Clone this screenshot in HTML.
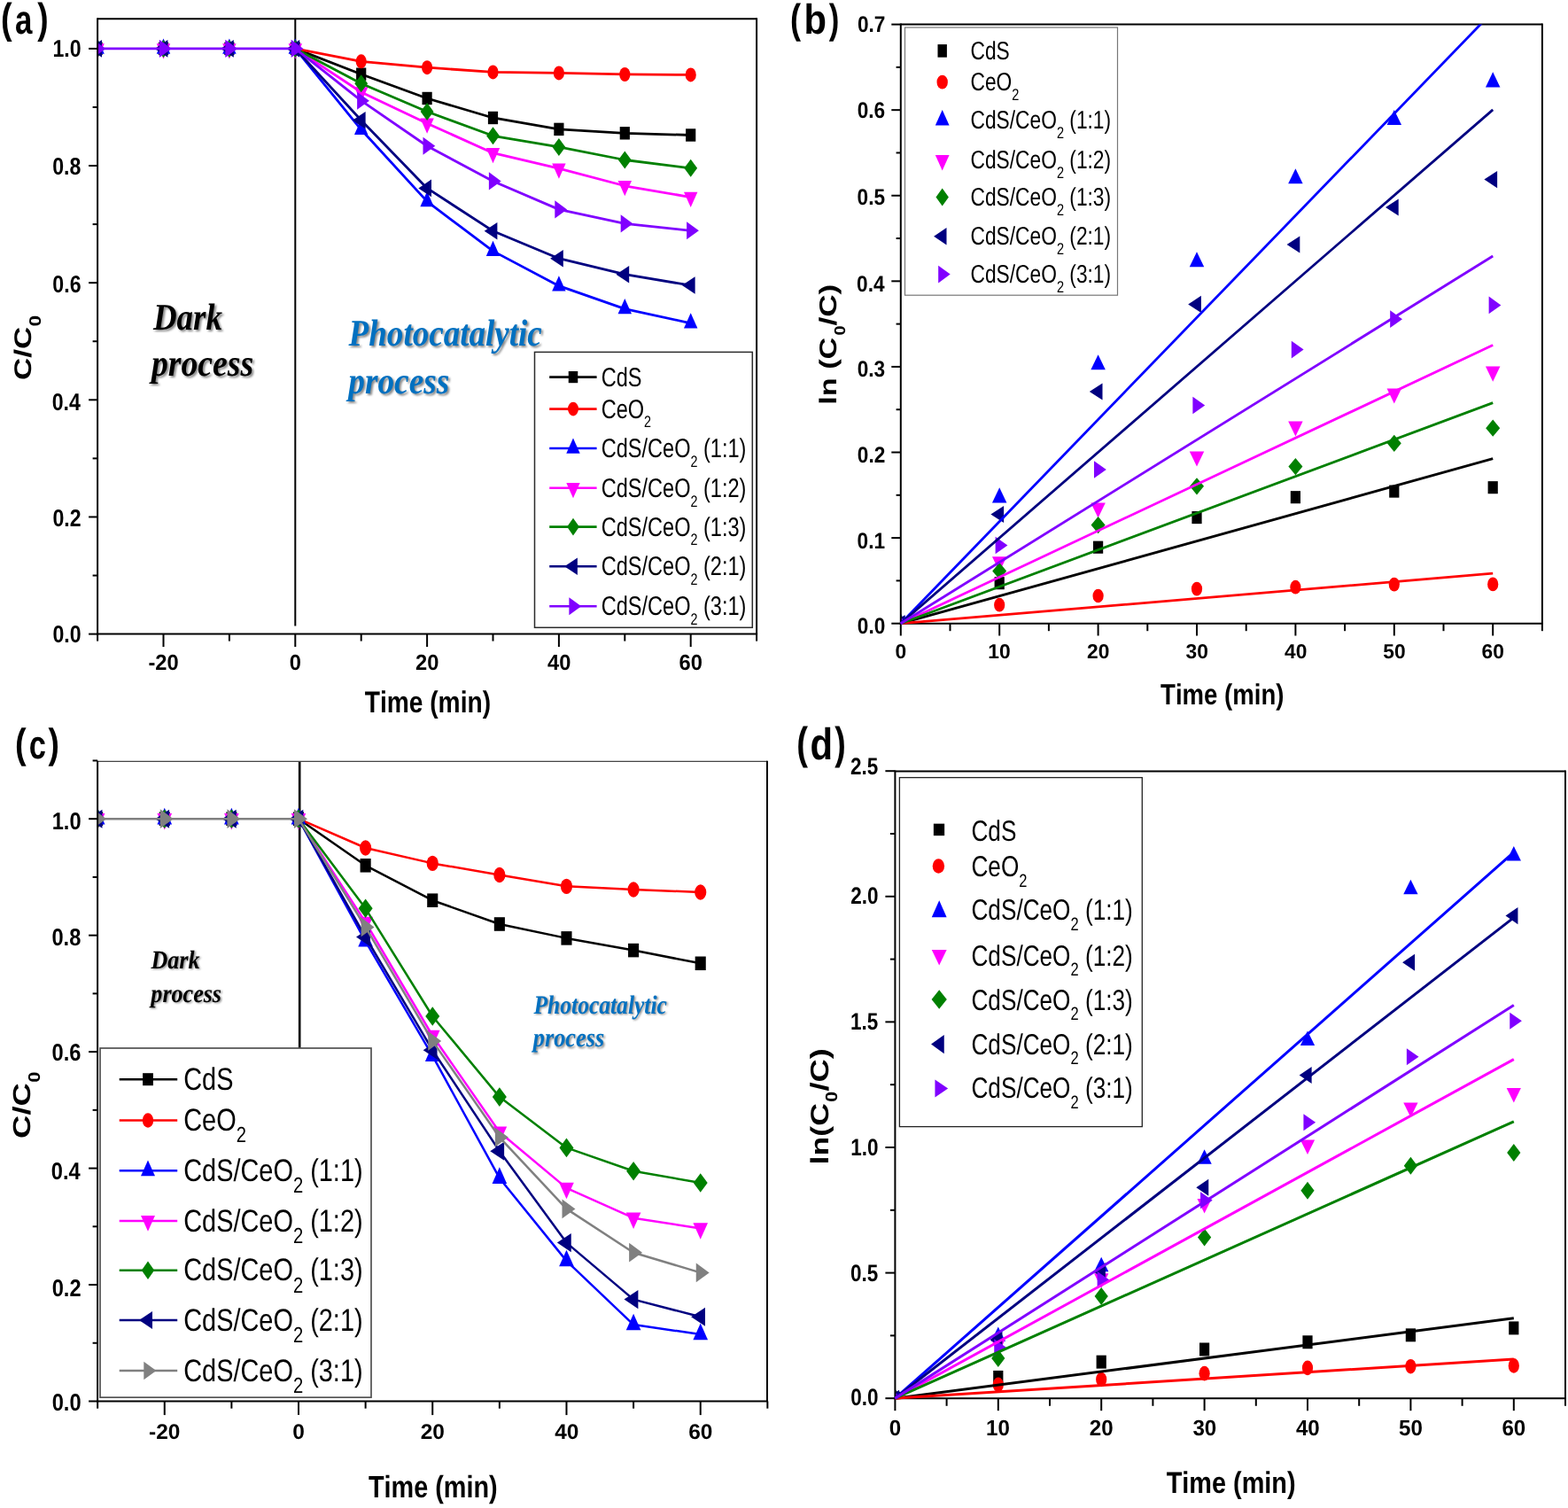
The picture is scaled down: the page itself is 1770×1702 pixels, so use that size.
<!DOCTYPE html>
<html><head><meta charset='utf-8'><title>Photocatalytic degradation figure</title>
<style>html,body{margin:0;padding:0;background:#fff;width:1770px;height:1702px;overflow:hidden}
text{font-kerning:none}</style></head>
<body>
<svg width='1770' height='1702' viewBox='0 0 1770 1702' style='display:block;font-kerning:none;text-rendering:geometricPrecision'>
<defs>
<filter id='blur' x='-10%' y='-10%' width='120%' height='120%'><feGaussianBlur stdDeviation='1'/></filter>
<clipPath id='clipA'><rect x='110.1' y='21.2' width='744' height='694.4'/></clipPath>
<clipPath id='clipB'><rect x='1016.8' y='27.6' width='724.1' height='676.1'/></clipPath>
<clipPath id='clipC'><rect x='110.1' y='859.3' width='755.9' height='722.2'/></clipPath>
<clipPath id='clipD'><rect x='1010.4' y='870.6' width='756.6' height='707.6'/></clipPath>
<clipPath id='clipB2'><rect x='1010' y='27.6' width='730' height='680'/></clipPath>
<clipPath id='clipD2'><rect x='1004' y='870.6' width='760' height='712'/></clipPath>
</defs>
<rect width='100%' height='100%' fill='#fff'/>
<line x1='333.3' y1='21.2' x2='333.3' y2='706.5' stroke='#000' stroke-width='2'/>
<g clip-path='url(#clipA)'>
<polyline points='333.3,54.9 407.7,83.71 482.1,110.99 556.5,132.99 630.9,145.88 705.3,150.31 779.7,152.49' fill='none' stroke='#000000' stroke-width='2.8' stroke-linejoin='round'/>
<rect x='104.5' y='47.7' width='11.2' height='14.4' fill='#000000'/>
<rect x='178.9' y='47.7' width='11.2' height='14.4' fill='#000000'/>
<rect x='253.3' y='47.7' width='11.2' height='14.4' fill='#000000'/>
<rect x='327.7' y='47.7' width='11.2' height='14.4' fill='#000000'/>
<rect x='402.1' y='76.51' width='11.2' height='14.4' fill='#000000'/>
<rect x='476.5' y='103.79' width='11.2' height='14.4' fill='#000000'/>
<rect x='550.9' y='125.79' width='11.2' height='14.4' fill='#000000'/>
<rect x='625.3' y='138.68' width='11.2' height='14.4' fill='#000000'/>
<rect x='699.7' y='143.11' width='11.2' height='14.4' fill='#000000'/>
<rect x='774.1' y='145.29' width='11.2' height='14.4' fill='#000000'/>
<polyline points='333.3,54.9 407.7,69.3 482.1,76.17 556.5,81.46 630.9,82.39 705.3,83.97 779.7,84.43' fill='none' stroke='#ff0000' stroke-width='2.8' stroke-linejoin='round'/>
<ellipse cx='110.1' cy='54.9' rx='6.1' ry='8' fill='#ff0000'/>
<ellipse cx='184.5' cy='54.9' rx='6.1' ry='8' fill='#ff0000'/>
<ellipse cx='258.9' cy='54.9' rx='6.1' ry='8' fill='#ff0000'/>
<ellipse cx='333.3' cy='54.9' rx='6.1' ry='8' fill='#ff0000'/>
<ellipse cx='407.7' cy='69.3' rx='6.1' ry='8' fill='#ff0000'/>
<ellipse cx='482.1' cy='76.17' rx='6.1' ry='8' fill='#ff0000'/>
<ellipse cx='556.5' cy='81.46' rx='6.1' ry='8' fill='#ff0000'/>
<ellipse cx='630.9' cy='82.39' rx='6.1' ry='8' fill='#ff0000'/>
<ellipse cx='705.3' cy='83.97' rx='6.1' ry='8' fill='#ff0000'/>
<ellipse cx='779.7' cy='84.43' rx='6.1' ry='8' fill='#ff0000'/>
<polyline points='333.3,54.9 407.7,146.27 482.1,227.41 556.5,283.37 630.9,322.68 705.3,348.58 779.7,364.77' fill='none' stroke='#0000ff' stroke-width='2.8' stroke-linejoin='round'/>
<polygon points='110.1,43.4 117.81,60.65 102.39,60.65' fill='#0000ff'/>
<polygon points='184.5,43.4 192.21,60.65 176.79,60.65' fill='#0000ff'/>
<polygon points='258.9,43.4 266.61,60.65 251.19,60.65' fill='#0000ff'/>
<polygon points='333.3,43.4 341.01,60.65 325.59,60.65' fill='#0000ff'/>
<polygon points='407.7,134.77 415.41,152.02 399.99,152.02' fill='#0000ff'/>
<polygon points='482.1,215.91 489.81,233.16 474.39,233.16' fill='#0000ff'/>
<polygon points='556.5,271.87 564.21,289.12 548.79,289.12' fill='#0000ff'/>
<polygon points='630.9,311.18 638.61,328.43 623.19,328.43' fill='#0000ff'/>
<polygon points='705.3,337.08 713.01,354.33 697.59,354.33' fill='#0000ff'/>
<polygon points='779.7,353.27 787.41,370.52 771.99,370.52' fill='#0000ff'/>
<polyline points='333.3,54.9 407.7,103.99 482.1,139.27 556.5,172.7 630.9,190.21 705.3,209.77 779.7,222.52' fill='none' stroke='#ff00ff' stroke-width='2.8' stroke-linejoin='round'/>
<polygon points='110.1,66.4 117.81,49.15 102.39,49.15' fill='#ff00ff'/>
<polygon points='184.5,66.4 192.21,49.15 176.79,49.15' fill='#ff00ff'/>
<polygon points='258.9,66.4 266.61,49.15 251.19,49.15' fill='#ff00ff'/>
<polygon points='333.3,66.4 341.01,49.15 325.59,49.15' fill='#ff00ff'/>
<polygon points='407.7,115.49 415.41,98.24 399.99,98.24' fill='#ff00ff'/>
<polygon points='482.1,150.77 489.81,133.52 474.39,133.52' fill='#ff00ff'/>
<polygon points='556.5,184.2 564.21,166.95 548.79,166.95' fill='#ff00ff'/>
<polygon points='630.9,201.71 638.61,184.46 623.19,184.46' fill='#ff00ff'/>
<polygon points='705.3,221.27 713.01,204.02 697.59,204.02' fill='#ff00ff'/>
<polygon points='779.7,234.02 787.41,216.77 771.99,216.77' fill='#ff00ff'/>
<polyline points='333.3,54.9 407.7,94.28 482.1,125.99 556.5,153.28 630.9,165.9 705.3,180.5 779.7,189.81' fill='none' stroke='#008000' stroke-width='2.8' stroke-linejoin='round'/>
<polygon points='110.1,44.9 117.5,54.9 110.1,64.9 102.7,54.9' fill='#008000'/>
<polygon points='184.5,44.9 191.9,54.9 184.5,64.9 177.1,54.9' fill='#008000'/>
<polygon points='258.9,44.9 266.3,54.9 258.9,64.9 251.5,54.9' fill='#008000'/>
<polygon points='333.3,44.9 340.7,54.9 333.3,64.9 325.9,54.9' fill='#008000'/>
<polygon points='407.7,84.28 415.1,94.28 407.7,104.28 400.3,94.28' fill='#008000'/>
<polygon points='482.1,115.99 489.5,125.99 482.1,135.99 474.7,125.99' fill='#008000'/>
<polygon points='556.5,143.28 563.9,153.28 556.5,163.28 549.1,153.28' fill='#008000'/>
<polygon points='630.9,155.9 638.3,165.9 630.9,175.9 623.5,165.9' fill='#008000'/>
<polygon points='705.3,170.5 712.7,180.5 705.3,190.5 697.9,180.5' fill='#008000'/>
<polygon points='779.7,179.81 787.1,189.81 779.7,199.81 772.3,189.81' fill='#008000'/>
<polyline points='333.3,54.9 407.7,135.7 482.1,212.41 556.5,260.71 630.9,291.69 705.3,309.73 779.7,322.09' fill='none' stroke='#000080' stroke-width='2.8' stroke-linejoin='round'/>
<polygon points='100.3,54.9 115,45.11 115,64.69' fill='#000080'/>
<polygon points='174.7,54.9 189.4,45.11 189.4,64.69' fill='#000080'/>
<polygon points='249.1,54.9 263.8,45.11 263.8,64.69' fill='#000080'/>
<polygon points='323.5,54.9 338.2,45.11 338.2,64.69' fill='#000080'/>
<polygon points='397.9,135.7 412.6,125.92 412.6,145.49' fill='#000080'/>
<polygon points='472.3,212.41 487,202.62 487,222.2' fill='#000080'/>
<polygon points='546.7,260.71 561.4,250.92 561.4,270.49' fill='#000080'/>
<polygon points='621.1,291.69 635.8,281.91 635.8,301.48' fill='#000080'/>
<polygon points='695.5,309.73 710.2,299.95 710.2,319.52' fill='#000080'/>
<polygon points='769.9,322.09 784.6,312.3 784.6,331.87' fill='#000080'/>
<polyline points='110.1,54.9 184.5,54.9 258.9,54.9 333.3,54.9 407.7,113.7 482.1,164.77 556.5,204.42 630.9,236.39 705.3,252.38 779.7,260.31' fill='none' stroke='#8000ff' stroke-width='2.8' stroke-linejoin='round'/>
<polygon points='119.3,54.9 105.5,44.85 105.5,64.95' fill='#8000ff'/>
<polygon points='193.7,54.9 179.9,44.85 179.9,64.95' fill='#8000ff'/>
<polygon points='268.1,54.9 254.3,44.85 254.3,64.95' fill='#8000ff'/>
<polygon points='342.5,54.9 328.7,44.85 328.7,64.95' fill='#8000ff'/>
<polygon points='416.9,113.7 403.1,103.66 403.1,123.75' fill='#8000ff'/>
<polygon points='491.3,164.77 477.5,154.73 477.5,174.82' fill='#8000ff'/>
<polygon points='565.7,204.42 551.9,194.37 551.9,214.46' fill='#8000ff'/>
<polygon points='640.1,236.39 626.3,226.35 626.3,246.44' fill='#8000ff'/>
<polygon points='714.5,252.38 700.7,242.34 700.7,262.43' fill='#8000ff'/>
<polygon points='788.9,260.31 775.1,250.27 775.1,270.36' fill='#8000ff'/>
</g>
<line x1='100.1' y1='715.6' x2='110.1' y2='715.6' stroke='#000' stroke-width='2'/>
<line x1='100.1' y1='583.46' x2='110.1' y2='583.46' stroke='#000' stroke-width='2'/>
<line x1='100.1' y1='451.32' x2='110.1' y2='451.32' stroke='#000' stroke-width='2'/>
<line x1='100.1' y1='319.18' x2='110.1' y2='319.18' stroke='#000' stroke-width='2'/>
<line x1='100.1' y1='187.04' x2='110.1' y2='187.04' stroke='#000' stroke-width='2'/>
<line x1='100.1' y1='54.9' x2='110.1' y2='54.9' stroke='#000' stroke-width='2'/>
<line x1='104.6' y1='649.53' x2='110.1' y2='649.53' stroke='#000' stroke-width='2'/>
<line x1='104.6' y1='517.39' x2='110.1' y2='517.39' stroke='#000' stroke-width='2'/>
<line x1='104.6' y1='385.25' x2='110.1' y2='385.25' stroke='#000' stroke-width='2'/>
<line x1='104.6' y1='253.11' x2='110.1' y2='253.11' stroke='#000' stroke-width='2'/>
<line x1='104.6' y1='120.97' x2='110.1' y2='120.97' stroke='#000' stroke-width='2'/>
<line x1='184.5' y1='715.6' x2='184.5' y2='730.1' stroke='#000' stroke-width='2'/>
<line x1='333.3' y1='715.6' x2='333.3' y2='730.1' stroke='#000' stroke-width='2'/>
<line x1='482.1' y1='715.6' x2='482.1' y2='730.1' stroke='#000' stroke-width='2'/>
<line x1='630.9' y1='715.6' x2='630.9' y2='730.1' stroke='#000' stroke-width='2'/>
<line x1='779.7' y1='715.6' x2='779.7' y2='730.1' stroke='#000' stroke-width='2'/>
<line x1='110.1' y1='715.6' x2='110.1' y2='723.6' stroke='#000' stroke-width='2'/>
<line x1='258.9' y1='715.6' x2='258.9' y2='723.6' stroke='#000' stroke-width='2'/>
<line x1='407.7' y1='715.6' x2='407.7' y2='723.6' stroke='#000' stroke-width='2'/>
<line x1='556.5' y1='715.6' x2='556.5' y2='723.6' stroke='#000' stroke-width='2'/>
<line x1='705.3' y1='715.6' x2='705.3' y2='723.6' stroke='#000' stroke-width='2'/>
<line x1='854.1' y1='715.6' x2='854.1' y2='723.6' stroke='#000' stroke-width='2'/>
<line x1='110.1' y1='21.2' x2='854.1' y2='21.2' stroke='#000' stroke-width='2'/>
<line x1='854.1' y1='20.2' x2='854.1' y2='715.6' stroke='#000' stroke-width='2'/>
<line x1='110.1' y1='20.2' x2='110.1' y2='716.6' stroke='#000' stroke-width='2'/>
<line x1='109.1' y1='715.6' x2='855.1' y2='715.6' stroke='#000' stroke-width='2'/>
<text transform='translate(59.46 725.13) scale(0.8450 1)' font-size='27.4' font-family='&quot;Liberation Sans&quot;, Arial, sans-serif' font-weight='bold' fill='#000'>0.0</text>
<text transform='translate(59.44 594.29) scale(0.8450 1)' font-size='27.4' font-family='&quot;Liberation Sans&quot;, Arial, sans-serif' font-weight='bold' fill='#000'>0.2</text>
<text transform='translate(58.64 462.55) scale(0.8450 1)' font-size='27.4' font-family='&quot;Liberation Sans&quot;, Arial, sans-serif' font-weight='bold' fill='#000'>0.4</text>
<text transform='translate(59.35 329.51) scale(0.8450 1)' font-size='27.4' font-family='&quot;Liberation Sans&quot;, Arial, sans-serif' font-weight='bold' fill='#000'>0.6</text>
<text transform='translate(59.23 197.17) scale(0.8450 1)' font-size='27.4' font-family='&quot;Liberation Sans&quot;, Arial, sans-serif' font-weight='bold' fill='#000'>0.8</text>
<text transform='translate(59.46 64.03) scale(0.8450 1)' font-size='27.4' font-family='&quot;Liberation Sans&quot;, Arial, sans-serif' font-weight='bold' fill='#000'>1.0</text>
<text transform='translate(167.39 756.45) scale(0.9600 1)' font-size='24.7' font-family='&quot;Liberation Sans&quot;, Arial, sans-serif' font-weight='bold' fill='#000'>-20</text>
<text transform='translate(326.72 756.45) scale(0.9600 1)' font-size='24.7' font-family='&quot;Liberation Sans&quot;, Arial, sans-serif' font-weight='bold' fill='#000'>0</text>
<text transform='translate(468.99 756.45) scale(0.9600 1)' font-size='24.7' font-family='&quot;Liberation Sans&quot;, Arial, sans-serif' font-weight='bold' fill='#000'>20</text>
<text transform='translate(618.02 756.45) scale(0.9600 1)' font-size='24.7' font-family='&quot;Liberation Sans&quot;, Arial, sans-serif' font-weight='bold' fill='#000'>40</text>
<text transform='translate(766.56 756.45) scale(0.9600 1)' font-size='24.7' font-family='&quot;Liberation Sans&quot;, Arial, sans-serif' font-weight='bold' fill='#000'>60</text>
<text transform='translate(411.68 803.74) scale(0.8283 1)' font-size='34.01' font-family='&quot;Liberation Sans&quot;, Arial, sans-serif' font-weight='bold' fill='#000'>Time (min)</text>
<text transform='translate(35.36 428.94) rotate(-90) scale(1.2970 1)' font-size='26.99' font-family='&quot;Liberation Sans&quot;, Arial, sans-serif' font-weight='bold' fill='#000'>C/C</text>
<text transform='translate(46.02 368.6) rotate(-90) scale(1.2180 1)' font-size='18.64' font-family='&quot;Liberation Sans&quot;, Arial, sans-serif' font-weight='bold' fill='#000'>0</text>
<text transform='translate(1.01 36.99) scale(0.7941 1)' font-size='47.74' font-family='&quot;Liberation Sans&quot;, Arial, sans-serif' font-weight='bold' fill='#000'>(</text>
<text transform='translate(16.98 38.05) scale(0.7614 1)' font-size='45.82' font-family='&quot;Liberation Sans&quot;, Arial, sans-serif' font-weight='bold' fill='#000'>a</text>
<text transform='translate(42.16 36.99) scale(0.7793 1)' font-size='47.74' font-family='&quot;Liberation Sans&quot;, Arial, sans-serif' font-weight='bold' fill='#000'>)</text>
<text transform='translate(174.97 373.5) scale(0.8700 1)' font-size='42.4' font-family='&quot;Liberation Serif&quot;, &quot;Times New Roman&quot;, serif' font-weight='bold' font-style='italic' fill='#8a8a8a' filter='url(#blur)'>Dark</text>
<text transform='translate(172.97 371.5) scale(0.8700 1)' font-size='42.4' font-family='&quot;Liberation Serif&quot;, &quot;Times New Roman&quot;, serif' font-weight='bold' font-style='italic' fill='#000'>Dark</text>
<text transform='translate(172.89 426) scale(0.8900 1)' font-size='42.4' font-family='&quot;Liberation Serif&quot;, &quot;Times New Roman&quot;, serif' font-weight='bold' font-style='italic' fill='#8a8a8a' filter='url(#blur)'>process</text>
<text transform='translate(170.89 424) scale(0.8900 1)' font-size='42.4' font-family='&quot;Liberation Serif&quot;, &quot;Times New Roman&quot;, serif' font-weight='bold' font-style='italic' fill='#000'>process</text>
<text transform='translate(395.62 392.2) scale(0.8740 1)' font-size='42.4' font-family='&quot;Liberation Serif&quot;, &quot;Times New Roman&quot;, serif' font-weight='bold' font-style='italic' fill='#8a8a8a' filter='url(#blur)'>Photocatalytic</text>
<text transform='translate(393.62 390.2) scale(0.8740 1)' font-size='42.4' font-family='&quot;Liberation Serif&quot;, &quot;Times New Roman&quot;, serif' font-weight='bold' font-style='italic' fill='#0070c0'>Photocatalytic</text>
<text transform='translate(395.26 445.7) scale(0.8800 1)' font-size='42.4' font-family='&quot;Liberation Serif&quot;, &quot;Times New Roman&quot;, serif' font-weight='bold' font-style='italic' fill='#8a8a8a' filter='url(#blur)'>process</text>
<text transform='translate(393.26 443.7) scale(0.8800 1)' font-size='42.4' font-family='&quot;Liberation Serif&quot;, &quot;Times New Roman&quot;, serif' font-weight='bold' font-style='italic' fill='#0070c0'>process</text>
<rect x='603.5' y='397.4' width='245.8' height='310.9' fill='#fff' stroke='#2a2a2a' stroke-width='1.5'/>
<line x1='620.2' y1='425.6' x2='673.6' y2='425.6' stroke='#000000' stroke-width='2.6'/>
<rect x='641.75' y='419' width='10.5' height='13.2' fill='#000000'/>
<text transform='translate(678.7 435.5) scale(0.7850 1)' font-size='30' font-family='&quot;Liberation Sans&quot;, Arial, sans-serif' fill='#000' style='white-space:pre'><tspan>CdS</tspan></text>
<line x1='620.2' y1='461.6' x2='673.6' y2='461.6' stroke='#ff0000' stroke-width='2.6'/>
<ellipse cx='647' cy='461.6' rx='6' ry='7.8' fill='#ff0000'/>
<text transform='translate(678.7 471.5) scale(0.7850 1)' font-size='30' font-family='&quot;Liberation Sans&quot;, Arial, sans-serif' fill='#000' style='white-space:pre'><tspan>CeO</tspan><tspan font-size='18.3' dy='10.8'>2</tspan></text>
<line x1='620.2' y1='506' x2='673.6' y2='506' stroke='#0000ff' stroke-width='2.6'/>
<polygon points='647,494.5 654.71,511.75 639.29,511.75' fill='#0000ff'/>
<text transform='translate(678.7 515.9) scale(0.7850 1)' font-size='30' font-family='&quot;Liberation Sans&quot;, Arial, sans-serif' fill='#000' style='white-space:pre'><tspan>CdS/CeO</tspan><tspan font-size='18.3' dy='10.8'>2</tspan><tspan font-size='30' dy='-10.8'> (1:1)</tspan></text>
<line x1='620.2' y1='550.8' x2='673.6' y2='550.8' stroke='#ff00ff' stroke-width='2.6'/>
<polygon points='647,562.3 654.71,545.05 639.29,545.05' fill='#ff00ff'/>
<text transform='translate(678.7 560.7) scale(0.7850 1)' font-size='30' font-family='&quot;Liberation Sans&quot;, Arial, sans-serif' fill='#000' style='white-space:pre'><tspan>CdS/CeO</tspan><tspan font-size='18.3' dy='10.8'>2</tspan><tspan font-size='30' dy='-10.8'> (1:2)</tspan></text>
<line x1='620.2' y1='594.6' x2='673.6' y2='594.6' stroke='#008000' stroke-width='2.6'/>
<polygon points='647,584.65 653.9,594.6 647,604.55 640.1,594.6' fill='#008000'/>
<text transform='translate(678.7 604.5) scale(0.7850 1)' font-size='30' font-family='&quot;Liberation Sans&quot;, Arial, sans-serif' fill='#000' style='white-space:pre'><tspan>CdS/CeO</tspan><tspan font-size='18.3' dy='10.8'>2</tspan><tspan font-size='30' dy='-10.8'> (1:3)</tspan></text>
<line x1='620.2' y1='639.3' x2='673.6' y2='639.3' stroke='#000080' stroke-width='2.6'/>
<polygon points='637.2,639.3 651.9,629.51 651.9,649.09' fill='#000080'/>
<text transform='translate(678.7 649.2) scale(0.7850 1)' font-size='30' font-family='&quot;Liberation Sans&quot;, Arial, sans-serif' fill='#000' style='white-space:pre'><tspan>CdS/CeO</tspan><tspan font-size='18.3' dy='10.8'>2</tspan><tspan font-size='30' dy='-10.8'> (2:1)</tspan></text>
<line x1='620.2' y1='684.2' x2='673.6' y2='684.2' stroke='#8000ff' stroke-width='2.6'/>
<polygon points='656.2,684.2 642.4,674.15 642.4,694.25' fill='#8000ff'/>
<text transform='translate(678.7 694.1) scale(0.7850 1)' font-size='30' font-family='&quot;Liberation Sans&quot;, Arial, sans-serif' fill='#000' style='white-space:pre'><tspan>CdS/CeO</tspan><tspan font-size='18.3' dy='10.8'>2</tspan><tspan font-size='30' dy='-10.8'> (3:1)</tspan></text>
<g clip-path='url(#clipB)'>
<rect x='1011.2' y='696.64' width='11.2' height='14.11' fill='#000000'/>
<rect x='1122.6' y='651.14' width='11.2' height='14.11' fill='#000000'/>
<rect x='1234' y='610.64' width='11.2' height='14.11' fill='#000000'/>
<rect x='1345.4' y='577.04' width='11.2' height='14.11' fill='#000000'/>
<rect x='1456.8' y='554.14' width='11.2' height='14.11' fill='#000000'/>
<rect x='1568.2' y='547.54' width='11.2' height='14.11' fill='#000000'/>
<rect x='1679.6' y='543.14' width='11.2' height='14.11' fill='#000000'/>
<ellipse cx='1016.8' cy='703.7' rx='6.1' ry='7.84' fill='#ff0000'/>
<ellipse cx='1128.2' cy='682.7' rx='6.1' ry='7.84' fill='#ff0000'/>
<ellipse cx='1239.6' cy='672.5' rx='6.1' ry='7.84' fill='#ff0000'/>
<ellipse cx='1351' cy='664.6' rx='6.1' ry='7.84' fill='#ff0000'/>
<ellipse cx='1462.4' cy='662.7' rx='6.1' ry='7.84' fill='#ff0000'/>
<ellipse cx='1573.8' cy='659.6' rx='6.1' ry='7.84' fill='#ff0000'/>
<ellipse cx='1685.2' cy='659.4' rx='6.1' ry='7.84' fill='#ff0000'/>
<polygon points='1016.8,692.3 1025.03,709.4 1008.57,709.4' fill='#0000ff'/>
<polygon points='1128.2,550.3 1136.43,567.4 1119.97,567.4' fill='#0000ff'/>
<polygon points='1239.6,400.2 1247.83,417.3 1231.37,417.3' fill='#0000ff'/>
<polygon points='1351,284.2 1359.23,301.3 1342.77,301.3' fill='#0000ff'/>
<polygon points='1462.4,190.2 1470.63,207.3 1454.17,207.3' fill='#0000ff'/>
<polygon points='1573.8,124 1582.03,141.1 1565.57,141.1' fill='#0000ff'/>
<polygon points='1685.2,81.3 1693.43,98.4 1676.97,98.4' fill='#0000ff'/>
<polygon points='1016.8,715.1 1025.03,698 1008.57,698' fill='#ff00ff'/>
<polygon points='1128.2,645.3 1136.43,628.2 1119.97,628.2' fill='#ff00ff'/>
<polygon points='1239.6,584.6 1247.83,567.5 1231.37,567.5' fill='#ff00ff'/>
<polygon points='1351,526.6 1359.23,509.5 1342.77,509.5' fill='#ff00ff'/>
<polygon points='1462.4,492.6 1470.63,475.5 1454.17,475.5' fill='#ff00ff'/>
<polygon points='1573.8,455.6 1582.03,438.5 1565.57,438.5' fill='#ff00ff'/>
<polygon points='1685.2,430.7 1693.43,413.6 1676.97,413.6' fill='#ff00ff'/>
<polygon points='1016.8,694.1 1024.8,703.7 1016.8,713.3 1008.8,703.7' fill='#008000'/>
<polygon points='1128.2,634.9 1136.2,644.5 1128.2,654.1 1120.2,644.5' fill='#008000'/>
<polygon points='1239.6,583 1247.6,592.6 1239.6,602.2 1231.6,592.6' fill='#008000'/>
<polygon points='1351,539.2 1359,548.8 1351,558.4 1343,548.8' fill='#008000'/>
<polygon points='1462.4,517 1470.4,526.6 1462.4,536.2 1454.4,526.6' fill='#008000'/>
<polygon points='1573.8,490.7 1581.8,500.3 1573.8,509.9 1565.8,500.3' fill='#008000'/>
<polygon points='1685.2,473.6 1693.2,483.2 1685.2,492.8 1677.2,483.2' fill='#008000'/>
<polygon points='1007,703.7 1021.7,694.11 1021.7,713.29' fill='#000080'/>
<polygon points='1118.4,580.5 1133.1,570.91 1133.1,590.09' fill='#000080'/>
<polygon points='1229.8,442 1244.5,432.41 1244.5,451.59' fill='#000080'/>
<polygon points='1341.2,343.4 1355.9,333.81 1355.9,352.99' fill='#000080'/>
<polygon points='1452.6,276 1467.3,266.41 1467.3,285.59' fill='#000080'/>
<polygon points='1564,234 1578.7,224.41 1578.7,243.59' fill='#000080'/>
<polygon points='1675.4,202.6 1690.1,193.01 1690.1,212.19' fill='#000080'/>
<polygon points='1026,703.7 1012.2,693.86 1012.2,713.54' fill='#8000ff'/>
<polygon points='1137.4,615.5 1123.6,605.66 1123.6,625.34' fill='#8000ff'/>
<polygon points='1248.8,530 1235,520.16 1235,539.84' fill='#8000ff'/>
<polygon points='1360.2,457.5 1346.4,447.66 1346.4,467.34' fill='#8000ff'/>
<polygon points='1471.6,394.6 1457.8,384.76 1457.8,404.44' fill='#8000ff'/>
<polygon points='1583,360.2 1569.2,350.36 1569.2,370.04' fill='#8000ff'/>
<polygon points='1694.4,344.4 1680.6,334.56 1680.6,354.24' fill='#8000ff'/>
</g>
<line x1='1006.3' y1='703.7' x2='1016.8' y2='703.7' stroke='#000' stroke-width='2'/>
<line x1='1006.3' y1='607.11' x2='1016.8' y2='607.11' stroke='#000' stroke-width='2'/>
<line x1='1006.3' y1='510.52' x2='1016.8' y2='510.52' stroke='#000' stroke-width='2'/>
<line x1='1006.3' y1='413.93' x2='1016.8' y2='413.93' stroke='#000' stroke-width='2'/>
<line x1='1006.3' y1='317.34' x2='1016.8' y2='317.34' stroke='#000' stroke-width='2'/>
<line x1='1006.3' y1='220.75' x2='1016.8' y2='220.75' stroke='#000' stroke-width='2'/>
<line x1='1006.3' y1='124.16' x2='1016.8' y2='124.16' stroke='#000' stroke-width='2'/>
<line x1='1006.3' y1='27.57' x2='1016.8' y2='27.57' stroke='#000' stroke-width='2'/>
<line x1='1011.6' y1='655.41' x2='1016.8' y2='655.41' stroke='#000' stroke-width='2'/>
<line x1='1011.6' y1='558.82' x2='1016.8' y2='558.82' stroke='#000' stroke-width='2'/>
<line x1='1011.6' y1='462.23' x2='1016.8' y2='462.23' stroke='#000' stroke-width='2'/>
<line x1='1011.6' y1='365.64' x2='1016.8' y2='365.64' stroke='#000' stroke-width='2'/>
<line x1='1011.6' y1='269.05' x2='1016.8' y2='269.05' stroke='#000' stroke-width='2'/>
<line x1='1011.6' y1='172.46' x2='1016.8' y2='172.46' stroke='#000' stroke-width='2'/>
<line x1='1011.6' y1='75.87' x2='1016.8' y2='75.87' stroke='#000' stroke-width='2'/>
<line x1='1016.8' y1='703.7' x2='1016.8' y2='717.5' stroke='#000' stroke-width='2'/>
<line x1='1128.2' y1='703.7' x2='1128.2' y2='717.5' stroke='#000' stroke-width='2'/>
<line x1='1239.6' y1='703.7' x2='1239.6' y2='717.5' stroke='#000' stroke-width='2'/>
<line x1='1351' y1='703.7' x2='1351' y2='717.5' stroke='#000' stroke-width='2'/>
<line x1='1462.4' y1='703.7' x2='1462.4' y2='717.5' stroke='#000' stroke-width='2'/>
<line x1='1573.8' y1='703.7' x2='1573.8' y2='717.5' stroke='#000' stroke-width='2'/>
<line x1='1685.2' y1='703.7' x2='1685.2' y2='717.5' stroke='#000' stroke-width='2'/>
<line x1='1072.5' y1='703.7' x2='1072.5' y2='712.2' stroke='#000' stroke-width='2'/>
<line x1='1183.9' y1='703.7' x2='1183.9' y2='712.2' stroke='#000' stroke-width='2'/>
<line x1='1295.3' y1='703.7' x2='1295.3' y2='712.2' stroke='#000' stroke-width='2'/>
<line x1='1406.7' y1='703.7' x2='1406.7' y2='712.2' stroke='#000' stroke-width='2'/>
<line x1='1518.1' y1='703.7' x2='1518.1' y2='712.2' stroke='#000' stroke-width='2'/>
<line x1='1629.5' y1='703.7' x2='1629.5' y2='712.2' stroke='#000' stroke-width='2'/>
<line x1='1740.9' y1='703.7' x2='1740.9' y2='712.2' stroke='#000' stroke-width='2'/>
<line x1='1016.8' y1='27.6' x2='1740.9' y2='27.6' stroke='#000' stroke-width='2'/>
<line x1='1740.9' y1='26.6' x2='1740.9' y2='703.7' stroke='#000' stroke-width='2'/>
<line x1='1016.8' y1='26.6' x2='1016.8' y2='704.7' stroke='#000' stroke-width='2'/>
<line x1='1015.8' y1='703.7' x2='1741.9' y2='703.7' stroke='#000' stroke-width='2'/>
<g clip-path='url(#clipB2)'>
<polyline points='1016.8,703.7 1685.2,517.7' fill='none' stroke='#000000' stroke-width='2.8' stroke-linejoin='round'/>
<polyline points='1016.8,703.7 1685.2,647.2' fill='none' stroke='#ff0000' stroke-width='2.8' stroke-linejoin='round'/>
<polyline points='1016.8,703.7 1685.2,13.1' fill='none' stroke='#0000ff' stroke-width='2.8' stroke-linejoin='round'/>
<polyline points='1016.8,703.7 1685.2,389.6' fill='none' stroke='#ff00ff' stroke-width='2.8' stroke-linejoin='round'/>
<polyline points='1016.8,703.7 1685.2,454.6' fill='none' stroke='#008000' stroke-width='2.8' stroke-linejoin='round'/>
<polyline points='1016.8,703.7 1685.2,123.9' fill='none' stroke='#000080' stroke-width='2.8' stroke-linejoin='round'/>
<polyline points='1016.8,703.7 1685.2,289' fill='none' stroke='#8000ff' stroke-width='2.8' stroke-linejoin='round'/>
</g>
<text transform='translate(967.83 715.01) scale(0.8850 1)' font-size='25.6' font-family='&quot;Liberation Sans&quot;, Arial, sans-serif' font-weight='bold' fill='#000'>0.0</text>
<text transform='translate(967.54 618.82) scale(0.8850 1)' font-size='25.6' font-family='&quot;Liberation Sans&quot;, Arial, sans-serif' font-weight='bold' fill='#000'>0.1</text>
<text transform='translate(967.81 521.73) scale(0.8850 1)' font-size='25.6' font-family='&quot;Liberation Sans&quot;, Arial, sans-serif' font-weight='bold' fill='#000'>0.2</text>
<text transform='translate(967.72 425.12) scale(0.8850 1)' font-size='25.6' font-family='&quot;Liberation Sans&quot;, Arial, sans-serif' font-weight='bold' fill='#000'>0.3</text>
<text transform='translate(967.03 329.05) scale(0.8850 1)' font-size='25.6' font-family='&quot;Liberation Sans&quot;, Arial, sans-serif' font-weight='bold' fill='#000'>0.4</text>
<text transform='translate(967.54 231.46) scale(0.8850 1)' font-size='25.6' font-family='&quot;Liberation Sans&quot;, Arial, sans-serif' font-weight='bold' fill='#000'>0.5</text>
<text transform='translate(967.72 133.17) scale(0.8850 1)' font-size='25.6' font-family='&quot;Liberation Sans&quot;, Arial, sans-serif' font-weight='bold' fill='#000'>0.6</text>
<text transform='translate(967.9 36.18) scale(0.8850 1)' font-size='25.6' font-family='&quot;Liberation Sans&quot;, Arial, sans-serif' font-weight='bold' fill='#000'>0.7</text>
<text transform='translate(1010.48 743.16) scale(0.9900 1)' font-size='23' font-family='&quot;Liberation Sans&quot;, Arial, sans-serif' font-weight='bold' fill='#000'>0</text>
<text transform='translate(1115.29 743.16) scale(0.9900 1)' font-size='23' font-family='&quot;Liberation Sans&quot;, Arial, sans-serif' font-weight='bold' fill='#000'>10</text>
<text transform='translate(1227.01 743.16) scale(0.9900 1)' font-size='23' font-family='&quot;Liberation Sans&quot;, Arial, sans-serif' font-weight='bold' fill='#000'>20</text>
<text transform='translate(1338.54 743.16) scale(0.9900 1)' font-size='23' font-family='&quot;Liberation Sans&quot;, Arial, sans-serif' font-weight='bold' fill='#000'>30</text>
<text transform='translate(1450.03 743.16) scale(0.9900 1)' font-size='23' font-family='&quot;Liberation Sans&quot;, Arial, sans-serif' font-weight='bold' fill='#000'>40</text>
<text transform='translate(1561.25 743.16) scale(0.9900 1)' font-size='23' font-family='&quot;Liberation Sans&quot;, Arial, sans-serif' font-weight='bold' fill='#000'>50</text>
<text transform='translate(1672.59 743.16) scale(0.9900 1)' font-size='23' font-family='&quot;Liberation Sans&quot;, Arial, sans-serif' font-weight='bold' fill='#000'>60</text>
<text transform='translate(1310.09 794.87) scale(0.8371 1)' font-size='32.94' font-family='&quot;Liberation Sans&quot;, Arial, sans-serif' font-weight='bold' fill='#000'>Time (min)</text>
<text transform='translate(944.37 456.8) rotate(-90) scale(1.2642 1)' font-size='27.14' font-family='&quot;Liberation Sans&quot;, Arial, sans-serif' font-weight='bold' fill='#000'>ln (C</text>
<text transform='translate(954.03 378.48) rotate(-90) scale(1.1285 1)' font-size='17.51' font-family='&quot;Liberation Sans&quot;, Arial, sans-serif' font-weight='bold' fill='#000'>0</text>
<text transform='translate(944.35 367.54) rotate(-90) scale(1.2882 1)' font-size='27.25' font-family='&quot;Liberation Sans&quot;, Arial, sans-serif' font-weight='bold' fill='#000'>/C)</text>
<text transform='translate(892 37.18) scale(0.7798 1)' font-size='46.35' font-family='&quot;Liberation Sans&quot;, Arial, sans-serif' font-weight='bold' fill='#000'>(</text>
<text transform='translate(907.55 38.44) scale(0.8845 1)' font-size='47.11' font-family='&quot;Liberation Sans&quot;, Arial, sans-serif' font-weight='bold' fill='#000'>b</text>
<text transform='translate(935.77 37.18) scale(0.7492 1)' font-size='46.35' font-family='&quot;Liberation Sans&quot;, Arial, sans-serif' font-weight='bold' fill='#000'>)</text>
<rect x='1021.5' y='31' width='240' height='302.2' fill='#fff' stroke='#777' stroke-width='1.2'/>
<rect x='1058.5' y='50.1' width='10.4' height='14.6' fill='#000000'/>
<text transform='translate(1095.54 67) scale(0.7900 1)' font-size='28.8' font-family='&quot;Liberation Sans&quot;, Arial, sans-serif' fill='#000' style='white-space:pre'><tspan>CdS</tspan></text>
<ellipse cx='1063.7' cy='92.7' rx='6.2' ry='7.9' fill='#ff0000'/>
<text transform='translate(1095.54 102.3) scale(0.7900 1)' font-size='28.8' font-family='&quot;Liberation Sans&quot;, Arial, sans-serif' fill='#000' style='white-space:pre'><tspan>CeO</tspan><tspan font-size='18.43' dy='10.51'>2</tspan></text>
<polygon points='1063.7,123.9 1071.58,141.45 1055.82,141.45' fill='#0000ff'/>
<text transform='translate(1095.54 145.2) scale(0.7900 1)' font-size='28.8' font-family='&quot;Liberation Sans&quot;, Arial, sans-serif' fill='#000' style='white-space:pre'><tspan>CdS/CeO</tspan><tspan font-size='18.43' dy='10.51'>2</tspan><tspan font-size='28.8' dy='-10.51'> (1:1)</tspan></text>
<polygon points='1063.7,192.5 1071.58,174.95 1055.82,174.95' fill='#ff00ff'/>
<text transform='translate(1095.54 190.4) scale(0.7900 1)' font-size='28.8' font-family='&quot;Liberation Sans&quot;, Arial, sans-serif' fill='#000' style='white-space:pre'><tspan>CdS/CeO</tspan><tspan font-size='18.43' dy='10.51'>2</tspan><tspan font-size='28.8' dy='-10.51'> (1:2)</tspan></text>
<polygon points='1063.7,212.6 1070.9,222.6 1063.7,232.6 1056.5,222.6' fill='#008000'/>
<text transform='translate(1095.54 232.2) scale(0.7900 1)' font-size='28.8' font-family='&quot;Liberation Sans&quot;, Arial, sans-serif' fill='#000' style='white-space:pre'><tspan>CdS/CeO</tspan><tspan font-size='18.43' dy='10.51'>2</tspan><tspan font-size='28.8' dy='-10.51'> (1:3)</tspan></text>
<polygon points='1054.1,266.7 1068.5,257 1068.5,276.4' fill='#000080'/>
<text transform='translate(1095.54 276.3) scale(0.7900 1)' font-size='28.8' font-family='&quot;Liberation Sans&quot;, Arial, sans-serif' fill='#000' style='white-space:pre'><tspan>CdS/CeO</tspan><tspan font-size='18.43' dy='10.51'>2</tspan><tspan font-size='28.8' dy='-10.51'> (2:1)</tspan></text>
<polygon points='1072.7,309.6 1059.2,299.73 1059.2,319.47' fill='#8000ff'/>
<text transform='translate(1095.54 319.2) scale(0.7900 1)' font-size='28.8' font-family='&quot;Liberation Sans&quot;, Arial, sans-serif' fill='#000' style='white-space:pre'><tspan>CdS/CeO</tspan><tspan font-size='18.43' dy='10.51'>2</tspan><tspan font-size='28.8' dy='-10.51'> (3:1)</tspan></text>
<line x1='338.2' y1='859.3' x2='338.2' y2='1183' stroke='#000' stroke-width='2.6'/>
<g clip-path='url(#clipC)'>
<polyline points='337,924.2 412.62,976.8 488.24,1016.2 563.86,1043 639.48,1058.9 715.1,1072.6 790.72,1087.3' fill='none' stroke='#000000' stroke-width='2.5' stroke-linejoin='round'/>
<rect x='104.09' y='916.42' width='12.1' height='15.55' fill='#000000'/>
<rect x='179.71' y='916.42' width='12.1' height='15.55' fill='#000000'/>
<rect x='255.33' y='916.42' width='12.1' height='15.55' fill='#000000'/>
<rect x='330.95' y='916.42' width='12.1' height='15.55' fill='#000000'/>
<rect x='406.57' y='969.02' width='12.1' height='15.55' fill='#000000'/>
<rect x='482.19' y='1008.42' width='12.1' height='15.55' fill='#000000'/>
<rect x='557.81' y='1035.22' width='12.1' height='15.55' fill='#000000'/>
<rect x='633.43' y='1051.12' width='12.1' height='15.55' fill='#000000'/>
<rect x='709.05' y='1064.82' width='12.1' height='15.55' fill='#000000'/>
<rect x='784.67' y='1079.52' width='12.1' height='15.55' fill='#000000'/>
<polyline points='337,924.2 412.62,957 488.24,974.4 563.86,987.5 639.48,1000.3 715.1,1004 790.72,1007' fill='none' stroke='#ff0000' stroke-width='2.5' stroke-linejoin='round'/>
<ellipse cx='110.14' cy='924.2' rx='6.59' ry='8.64' fill='#ff0000'/>
<ellipse cx='185.76' cy='924.2' rx='6.59' ry='8.64' fill='#ff0000'/>
<ellipse cx='261.38' cy='924.2' rx='6.59' ry='8.64' fill='#ff0000'/>
<ellipse cx='337' cy='924.2' rx='6.59' ry='8.64' fill='#ff0000'/>
<ellipse cx='412.62' cy='957' rx='6.59' ry='8.64' fill='#ff0000'/>
<ellipse cx='488.24' cy='974.4' rx='6.59' ry='8.64' fill='#ff0000'/>
<ellipse cx='563.86' cy='987.5' rx='6.59' ry='8.64' fill='#ff0000'/>
<ellipse cx='639.48' cy='1000.3' rx='6.59' ry='8.64' fill='#ff0000'/>
<ellipse cx='715.1' cy='1004' rx='6.59' ry='8.64' fill='#ff0000'/>
<ellipse cx='790.72' cy='1007' rx='6.59' ry='8.64' fill='#ff0000'/>
<polyline points='337,924.2 412.62,1062.4 488.24,1191.7 563.86,1329.7 639.48,1423.1 715.1,1495.1 790.72,1506' fill='none' stroke='#0000ff' stroke-width='2.5' stroke-linejoin='round'/>
<polygon points='110.14,911.78 118.46,930.41 101.82,930.41' fill='#0000ff'/>
<polygon points='185.76,911.78 194.08,930.41 177.44,930.41' fill='#0000ff'/>
<polygon points='261.38,911.78 269.7,930.41 253.06,930.41' fill='#0000ff'/>
<polygon points='337,911.78 345.32,930.41 328.68,930.41' fill='#0000ff'/>
<polygon points='412.62,1049.98 420.94,1068.61 404.3,1068.61' fill='#0000ff'/>
<polygon points='488.24,1179.28 496.56,1197.91 479.92,1197.91' fill='#0000ff'/>
<polygon points='563.86,1317.28 572.18,1335.91 555.54,1335.91' fill='#0000ff'/>
<polygon points='639.48,1410.68 647.8,1429.31 631.16,1429.31' fill='#0000ff'/>
<polygon points='715.1,1482.68 723.42,1501.31 706.78,1501.31' fill='#0000ff'/>
<polygon points='790.72,1493.58 799.04,1512.21 782.4,1512.21' fill='#0000ff'/>
<polyline points='337,924.2 412.62,1041 488.24,1169 563.86,1277.7 639.48,1340.9 715.1,1374.7 790.72,1386.4' fill='none' stroke='#ff00ff' stroke-width='2.5' stroke-linejoin='round'/>
<polygon points='110.14,936.62 118.46,917.99 101.82,917.99' fill='#ff00ff'/>
<polygon points='185.76,936.62 194.08,917.99 177.44,917.99' fill='#ff00ff'/>
<polygon points='261.38,936.62 269.7,917.99 253.06,917.99' fill='#ff00ff'/>
<polygon points='337,936.62 345.32,917.99 328.68,917.99' fill='#ff00ff'/>
<polygon points='412.62,1053.42 420.94,1034.79 404.3,1034.79' fill='#ff00ff'/>
<polygon points='488.24,1181.42 496.56,1162.79 479.92,1162.79' fill='#ff00ff'/>
<polygon points='563.86,1290.12 572.18,1271.49 555.54,1271.49' fill='#ff00ff'/>
<polygon points='639.48,1353.32 647.8,1334.69 631.16,1334.69' fill='#ff00ff'/>
<polygon points='715.1,1387.12 723.42,1368.49 706.78,1368.49' fill='#ff00ff'/>
<polygon points='790.72,1398.82 799.04,1380.19 782.4,1380.19' fill='#ff00ff'/>
<polyline points='337,924.2 412.62,1025.3 488.24,1147 563.86,1238.1 639.48,1295.4 715.1,1321.8 790.72,1335' fill='none' stroke='#008000' stroke-width='2.5' stroke-linejoin='round'/>
<polygon points='110.14,913.4 118.13,924.2 110.14,935 102.15,924.2' fill='#008000'/>
<polygon points='185.76,913.4 193.75,924.2 185.76,935 177.77,924.2' fill='#008000'/>
<polygon points='261.38,913.4 269.37,924.2 261.38,935 253.39,924.2' fill='#008000'/>
<polygon points='337,913.4 344.99,924.2 337,935 329.01,924.2' fill='#008000'/>
<polygon points='412.62,1014.5 420.61,1025.3 412.62,1036.1 404.63,1025.3' fill='#008000'/>
<polygon points='488.24,1136.2 496.23,1147 488.24,1157.8 480.25,1147' fill='#008000'/>
<polygon points='563.86,1227.3 571.85,1238.1 563.86,1248.9 555.87,1238.1' fill='#008000'/>
<polygon points='639.48,1284.6 647.47,1295.4 639.48,1306.2 631.49,1295.4' fill='#008000'/>
<polygon points='715.1,1311 723.09,1321.8 715.1,1332.6 707.11,1321.8' fill='#008000'/>
<polygon points='790.72,1324.2 798.71,1335 790.72,1345.8 782.73,1335' fill='#008000'/>
<polyline points='337,924.2 412.62,1057.6 488.24,1185.2 563.86,1299.2 639.48,1402.6 715.1,1466.6 790.72,1486.3' fill='none' stroke='#000080' stroke-width='2.5' stroke-linejoin='round'/>
<polygon points='99.56,924.2 115.43,913.63 115.43,934.77' fill='#000080'/>
<polygon points='175.18,924.2 191.05,913.63 191.05,934.77' fill='#000080'/>
<polygon points='250.8,924.2 266.67,913.63 266.67,934.77' fill='#000080'/>
<polygon points='326.42,924.2 342.29,913.63 342.29,934.77' fill='#000080'/>
<polygon points='402.04,1057.6 417.91,1047.03 417.91,1068.17' fill='#000080'/>
<polygon points='477.66,1185.2 493.53,1174.63 493.53,1195.77' fill='#000080'/>
<polygon points='553.28,1299.2 569.15,1288.63 569.15,1309.77' fill='#000080'/>
<polygon points='628.9,1402.6 644.77,1392.03 644.77,1413.17' fill='#000080'/>
<polygon points='704.52,1466.6 720.39,1456.03 720.39,1477.17' fill='#000080'/>
<polygon points='780.14,1486.3 796.01,1475.73 796.01,1496.87' fill='#000080'/>
<polyline points='110.14,924.2 185.76,924.2 261.38,924.2 337,924.2 412.62,1046.4 488.24,1174.9 563.86,1283.6 639.48,1364.4 715.1,1413.7 790.72,1436.4' fill='none' stroke='#808080' stroke-width='2.5' stroke-linejoin='round'/>
<polygon points='120.08,924.2 105.17,913.35 105.17,935.05' fill='#808080'/>
<polygon points='195.7,924.2 180.79,913.35 180.79,935.05' fill='#808080'/>
<polygon points='271.32,924.2 256.41,913.35 256.41,935.05' fill='#808080'/>
<polygon points='346.94,924.2 332.03,913.35 332.03,935.05' fill='#808080'/>
<polygon points='422.56,1046.4 407.65,1035.55 407.65,1057.25' fill='#808080'/>
<polygon points='498.18,1174.9 483.27,1164.05 483.27,1185.75' fill='#808080'/>
<polygon points='573.8,1283.6 558.89,1272.75 558.89,1294.45' fill='#808080'/>
<polygon points='649.42,1364.4 634.51,1353.55 634.51,1375.25' fill='#808080'/>
<polygon points='725.04,1413.7 710.13,1402.85 710.13,1424.55' fill='#808080'/>
<polygon points='800.66,1436.4 785.75,1425.55 785.75,1447.25' fill='#808080'/>
</g>
<line x1='100.1' y1='1581.5' x2='110.1' y2='1581.5' stroke='#000' stroke-width='2'/>
<line x1='100.1' y1='1450.04' x2='110.1' y2='1450.04' stroke='#000' stroke-width='2'/>
<line x1='100.1' y1='1318.58' x2='110.1' y2='1318.58' stroke='#000' stroke-width='2'/>
<line x1='100.1' y1='1187.12' x2='110.1' y2='1187.12' stroke='#000' stroke-width='2'/>
<line x1='100.1' y1='1055.66' x2='110.1' y2='1055.66' stroke='#000' stroke-width='2'/>
<line x1='100.1' y1='924.2' x2='110.1' y2='924.2' stroke='#000' stroke-width='2'/>
<line x1='104.6' y1='1515.77' x2='110.1' y2='1515.77' stroke='#000' stroke-width='2'/>
<line x1='104.6' y1='1384.31' x2='110.1' y2='1384.31' stroke='#000' stroke-width='2'/>
<line x1='104.6' y1='1252.85' x2='110.1' y2='1252.85' stroke='#000' stroke-width='2'/>
<line x1='104.6' y1='1121.39' x2='110.1' y2='1121.39' stroke='#000' stroke-width='2'/>
<line x1='104.6' y1='989.93' x2='110.1' y2='989.93' stroke='#000' stroke-width='2'/>
<line x1='104.6' y1='858.47' x2='110.1' y2='858.47' stroke='#000' stroke-width='2'/>
<line x1='185.76' y1='1581.5' x2='185.76' y2='1597.1' stroke='#000' stroke-width='2'/>
<line x1='337' y1='1581.5' x2='337' y2='1597.1' stroke='#000' stroke-width='2'/>
<line x1='488.24' y1='1581.5' x2='488.24' y2='1597.1' stroke='#000' stroke-width='2'/>
<line x1='639.48' y1='1581.5' x2='639.48' y2='1597.1' stroke='#000' stroke-width='2'/>
<line x1='790.72' y1='1581.5' x2='790.72' y2='1597.1' stroke='#000' stroke-width='2'/>
<line x1='110.14' y1='1581.5' x2='110.14' y2='1589.7' stroke='#000' stroke-width='2'/>
<line x1='261.38' y1='1581.5' x2='261.38' y2='1589.7' stroke='#000' stroke-width='2'/>
<line x1='412.62' y1='1581.5' x2='412.62' y2='1589.7' stroke='#000' stroke-width='2'/>
<line x1='563.86' y1='1581.5' x2='563.86' y2='1589.7' stroke='#000' stroke-width='2'/>
<line x1='715.1' y1='1581.5' x2='715.1' y2='1589.7' stroke='#000' stroke-width='2'/>
<line x1='866.34' y1='1581.5' x2='866.34' y2='1589.7' stroke='#000' stroke-width='2'/>
<line x1='110.1' y1='859.3' x2='866' y2='859.3' stroke='#444' stroke-width='1.3'/>
<line x1='866' y1='858.65' x2='866' y2='1581.5' stroke='#000' stroke-width='2'/>
<line x1='110.1' y1='858.65' x2='110.1' y2='1582.5' stroke='#000' stroke-width='2'/>
<line x1='109.1' y1='1581.5' x2='867' y2='1581.5' stroke='#000' stroke-width='2'/>
<text transform='translate(58.67 1591.56) scale(0.8700 1)' font-size='27.2' font-family='&quot;Liberation Sans&quot;, Arial, sans-serif' font-weight='bold' fill='#000'>0.0</text>
<text transform='translate(58.65 1462.9) scale(0.8700 1)' font-size='27.2' font-family='&quot;Liberation Sans&quot;, Arial, sans-serif' font-weight='bold' fill='#000'>0.2</text>
<text transform='translate(57.83 1331.14) scale(0.8700 1)' font-size='27.2' font-family='&quot;Liberation Sans&quot;, Arial, sans-serif' font-weight='bold' fill='#000'>0.4</text>
<text transform='translate(58.56 1197.38) scale(0.8700 1)' font-size='27.2' font-family='&quot;Liberation Sans&quot;, Arial, sans-serif' font-weight='bold' fill='#000'>0.6</text>
<text transform='translate(58.43 1067.12) scale(0.8700 1)' font-size='27.2' font-family='&quot;Liberation Sans&quot;, Arial, sans-serif' font-weight='bold' fill='#000'>0.8</text>
<text transform='translate(58.67 935.56) scale(0.8700 1)' font-size='27.2' font-family='&quot;Liberation Sans&quot;, Arial, sans-serif' font-weight='bold' fill='#000'>1.0</text>
<text transform='translate(168.09 1624.26) scale(1.0200 1)' font-size='24' font-family='&quot;Liberation Sans&quot;, Arial, sans-serif' font-weight='bold' fill='#000'>-20</text>
<text transform='translate(330.21 1624.26) scale(1.0200 1)' font-size='24' font-family='&quot;Liberation Sans&quot;, Arial, sans-serif' font-weight='bold' fill='#000'>0</text>
<text transform='translate(474.7 1624.26) scale(1.0200 1)' font-size='24' font-family='&quot;Liberation Sans&quot;, Arial, sans-serif' font-weight='bold' fill='#000'>20</text>
<text transform='translate(626.18 1624.26) scale(1.0200 1)' font-size='24' font-family='&quot;Liberation Sans&quot;, Arial, sans-serif' font-weight='bold' fill='#000'>40</text>
<text transform='translate(777.16 1624.26) scale(1.0200 1)' font-size='24' font-family='&quot;Liberation Sans&quot;, Arial, sans-serif' font-weight='bold' fill='#000'>60</text>
<text transform='translate(415.88 1690.09) scale(0.8295 1)' font-size='34.76' font-family='&quot;Liberation Sans&quot;, Arial, sans-serif' font-weight='bold' fill='#000'>Time (min)</text>
<text transform='translate(33.85 1284.89) rotate(-90) scale(1.3158 1)' font-size='27.66' font-family='&quot;Liberation Sans&quot;, Arial, sans-serif' font-weight='bold' fill='#000'>C/C</text>
<text transform='translate(44.82 1221.77) rotate(-90) scale(1.1753 1)' font-size='18.79' font-family='&quot;Liberation Sans&quot;, Arial, sans-serif' font-weight='bold' fill='#000'>0</text>
<text transform='translate(17.01 855.14) scale(0.8143 1)' font-size='46.56' font-family='&quot;Liberation Sans&quot;, Arial, sans-serif' font-weight='bold' fill='#000'>(</text>
<text transform='translate(32.65 856.46) scale(0.7670 1)' font-size='44.9' font-family='&quot;Liberation Sans&quot;, Arial, sans-serif' font-weight='bold' fill='#000'>c</text>
<text transform='translate(54.46 855.14) scale(0.7991 1)' font-size='46.56' font-family='&quot;Liberation Sans&quot;, Arial, sans-serif' font-weight='bold' fill='#000'>)</text>
<text transform='translate(171.99 1094.2) scale(0.8900 1)' font-size='29.3' font-family='&quot;Liberation Serif&quot;, &quot;Times New Roman&quot;, serif' font-weight='bold' font-style='italic' fill='#8a8a8a' filter='url(#blur)'>Dark</text>
<text transform='translate(170.49 1092.7) scale(0.8900 1)' font-size='29.3' font-family='&quot;Liberation Serif&quot;, &quot;Times New Roman&quot;, serif' font-weight='bold' font-style='italic' fill='#000'>Dark</text>
<text transform='translate(171.86 1132.2) scale(0.8900 1)' font-size='29.3' font-family='&quot;Liberation Serif&quot;, &quot;Times New Roman&quot;, serif' font-weight='bold' font-style='italic' fill='#8a8a8a' filter='url(#blur)'>process</text>
<text transform='translate(170.36 1130.7) scale(0.8900 1)' font-size='29.3' font-family='&quot;Liberation Serif&quot;, &quot;Times New Roman&quot;, serif' font-weight='bold' font-style='italic' fill='#000'>process</text>
<text transform='translate(604.01 1145.3) scale(0.8600 1)' font-size='29.7' font-family='&quot;Liberation Serif&quot;, &quot;Times New Roman&quot;, serif' font-weight='bold' font-style='italic' fill='#8a8a8a' filter='url(#blur)'>Photocatalytic</text>
<text transform='translate(602.51 1143.8) scale(0.8600 1)' font-size='29.7' font-family='&quot;Liberation Serif&quot;, &quot;Times New Roman&quot;, serif' font-weight='bold' font-style='italic' fill='#0070c0'>Photocatalytic</text>
<text transform='translate(603.37 1182.5) scale(0.8700 1)' font-size='30.2' font-family='&quot;Liberation Serif&quot;, &quot;Times New Roman&quot;, serif' font-weight='bold' font-style='italic' fill='#8a8a8a' filter='url(#blur)'>process</text>
<text transform='translate(601.87 1181) scale(0.8700 1)' font-size='30.2' font-family='&quot;Liberation Serif&quot;, &quot;Times New Roman&quot;, serif' font-weight='bold' font-style='italic' fill='#0070c0'>process</text>
<rect x='113' y='1183' width='306' height='394.2' fill='#fff' stroke='#505050' stroke-width='1.7'/>
<line x1='134.7' y1='1218.2' x2='200.2' y2='1218.2' stroke='#000000' stroke-width='2.4'/>
<rect x='161.1' y='1211.2' width='11.8' height='14' fill='#000000'/>
<text transform='translate(207.23 1229.7) scale(0.8140 1)' font-size='35.5' font-family='&quot;Liberation Sans&quot;, Arial, sans-serif' fill='#000' style='white-space:pre'><tspan>CdS</tspan></text>
<line x1='134.7' y1='1264.5' x2='200.2' y2='1264.5' stroke='#ff0000' stroke-width='2.4'/>
<ellipse cx='167' cy='1264.5' rx='6.2' ry='8.2' fill='#ff0000'/>
<text transform='translate(207.23 1276) scale(0.8140 1)' font-size='35.5' font-family='&quot;Liberation Sans&quot;, Arial, sans-serif' fill='#000' style='white-space:pre'><tspan>CeO</tspan><tspan font-size='24.85' dy='13.38'>2</tspan></text>
<line x1='134.7' y1='1321.3' x2='200.2' y2='1321.3' stroke='#0000ff' stroke-width='2.4'/>
<polygon points='167,1309.5 174.97,1327.2 159.03,1327.2' fill='#0000ff'/>
<text transform='translate(207.23 1332.8) scale(0.8140 1)' font-size='35.5' font-family='&quot;Liberation Sans&quot;, Arial, sans-serif' fill='#000' style='white-space:pre'><tspan>CdS/CeO</tspan><tspan font-size='24.85' dy='13.38'>2</tspan><tspan font-size='35.5' dy='-13.38'> (1:1)</tspan></text>
<line x1='134.7' y1='1378' x2='200.2' y2='1378' stroke='#ff00ff' stroke-width='2.4'/>
<polygon points='167,1389.8 174.97,1372.1 159.03,1372.1' fill='#ff00ff'/>
<text transform='translate(207.23 1389.5) scale(0.8140 1)' font-size='35.5' font-family='&quot;Liberation Sans&quot;, Arial, sans-serif' fill='#000' style='white-space:pre'><tspan>CdS/CeO</tspan><tspan font-size='24.85' dy='13.38'>2</tspan><tspan font-size='35.5' dy='-13.38'> (1:2)</tspan></text>
<line x1='134.7' y1='1433.7' x2='200.2' y2='1433.7' stroke='#008000' stroke-width='2.4'/>
<polygon points='167,1423.5 174.2,1433.7 167,1443.9 159.8,1433.7' fill='#008000'/>
<text transform='translate(207.23 1445.2) scale(0.8140 1)' font-size='35.5' font-family='&quot;Liberation Sans&quot;, Arial, sans-serif' fill='#000' style='white-space:pre'><tspan>CdS/CeO</tspan><tspan font-size='24.85' dy='13.38'>2</tspan><tspan font-size='35.5' dy='-13.38'> (1:3)</tspan></text>
<line x1='134.7' y1='1490' x2='200.2' y2='1490' stroke='#000080' stroke-width='2.4'/>
<polygon points='157,1490 172,1479.95 172,1500.05' fill='#000080'/>
<text transform='translate(207.23 1501.5) scale(0.8140 1)' font-size='35.5' font-family='&quot;Liberation Sans&quot;, Arial, sans-serif' fill='#000' style='white-space:pre'><tspan>CdS/CeO</tspan><tspan font-size='24.85' dy='13.38'>2</tspan><tspan font-size='35.5' dy='-13.38'> (2:1)</tspan></text>
<line x1='134.7' y1='1547' x2='200.2' y2='1547' stroke='#808080' stroke-width='2.4'/>
<polygon points='176.4,1547 162.3,1536.78 162.3,1557.22' fill='#808080'/>
<text transform='translate(207.23 1558.5) scale(0.8140 1)' font-size='35.5' font-family='&quot;Liberation Sans&quot;, Arial, sans-serif' fill='#000' style='white-space:pre'><tspan>CdS/CeO</tspan><tspan font-size='24.85' dy='13.38'>2</tspan><tspan font-size='35.5' dy='-13.38'> (3:1)</tspan></text>
<g clip-path='url(#clipD)'>
<rect x='1004.8' y='1570.71' width='11.2' height='14.98' fill='#000000'/>
<rect x='1121.2' y='1546.92' width='11.2' height='14.98' fill='#000000'/>
<rect x='1237.6' y='1529.65' width='11.2' height='14.98' fill='#000000'/>
<rect x='1354' y='1515.49' width='11.2' height='14.98' fill='#000000'/>
<rect x='1470.4' y='1507.28' width='11.2' height='14.98' fill='#000000'/>
<rect x='1586.8' y='1499.35' width='11.2' height='14.98' fill='#000000'/>
<rect x='1703.2' y='1491.42' width='11.2' height='14.98' fill='#000000'/>
<ellipse cx='1010.4' cy='1578.2' rx='6.1' ry='8.32' fill='#ff0000'/>
<ellipse cx='1126.8' cy='1562.91' rx='6.1' ry='8.32' fill='#ff0000'/>
<ellipse cx='1243.2' cy='1556.96' rx='6.1' ry='8.32' fill='#ff0000'/>
<ellipse cx='1359.6' cy='1550.16' rx='6.1' ry='8.32' fill='#ff0000'/>
<ellipse cx='1476' cy='1543.93' rx='6.1' ry='8.32' fill='#ff0000'/>
<ellipse cx='1592.4' cy='1542.23' rx='6.1' ry='8.32' fill='#ff0000'/>
<ellipse cx='1708.8' cy='1541.38' rx='6.1' ry='8.32' fill='#ff0000'/>
<polygon points='1010.4,1567.2 1018.54,1583.7 1002.26,1583.7' fill='#0000ff'/>
<polygon points='1126.8,1497.5 1134.94,1514 1118.66,1514' fill='#0000ff'/>
<polygon points='1243.2,1418.77 1251.34,1435.27 1235.06,1435.27' fill='#0000ff'/>
<polygon points='1359.6,1297.28 1367.74,1313.78 1351.46,1313.78' fill='#0000ff'/>
<polygon points='1476,1163.61 1484.14,1180.11 1467.86,1180.11' fill='#0000ff'/>
<polygon points='1592.4,992.84 1600.54,1009.34 1584.26,1009.34' fill='#0000ff'/>
<polygon points='1708.8,954.89 1716.94,971.39 1700.66,971.39' fill='#0000ff'/>
<polygon points='1010.4,1589.2 1018.54,1572.7 1002.26,1572.7' fill='#ff00ff'/>
<polygon points='1126.8,1527.77 1134.94,1511.27 1118.66,1511.27' fill='#ff00ff'/>
<polygon points='1243.2,1453.86 1251.34,1437.36 1235.06,1437.36' fill='#ff00ff'/>
<polygon points='1359.6,1369.47 1367.74,1352.97 1351.46,1352.97' fill='#ff00ff'/>
<polygon points='1476,1302.91 1484.14,1286.41 1467.86,1286.41' fill='#ff00ff'/>
<polygon points='1592.4,1261 1600.54,1244.5 1584.26,1244.5' fill='#ff00ff'/>
<polygon points='1708.8,1244.57 1716.94,1228.07 1700.66,1228.07' fill='#ff00ff'/>
<polygon points='1010.4,1568.2 1018,1578.2 1010.4,1588.2 1002.8,1578.2' fill='#008000'/>
<polygon points='1126.8,1522.89 1134.4,1532.89 1126.8,1542.89 1119.2,1532.89' fill='#008000'/>
<polygon points='1243.2,1452.94 1250.8,1462.94 1243.2,1472.94 1235.6,1462.94' fill='#008000'/>
<polygon points='1359.6,1386.39 1367.2,1396.39 1359.6,1406.39 1352,1396.39' fill='#008000'/>
<polygon points='1476,1333.71 1483.6,1343.71 1476,1353.71 1468.4,1343.71' fill='#008000'/>
<polygon points='1592.4,1305.67 1600,1315.67 1592.4,1325.67 1584.8,1315.67' fill='#008000'/>
<polygon points='1708.8,1290.95 1716.4,1300.95 1708.8,1310.95 1701.2,1300.95' fill='#008000'/>
<polygon points='1001.1,1578.2 1015.05,1568.67 1015.05,1587.73' fill='#000080'/>
<polygon points='1117.5,1511.93 1131.45,1502.4 1131.45,1521.46' fill='#000080'/>
<polygon points='1233.9,1434.9 1247.85,1425.37 1247.85,1444.43' fill='#000080'/>
<polygon points='1350.3,1340.31 1364.25,1330.79 1364.25,1349.84' fill='#000080'/>
<polygon points='1466.7,1213.44 1480.65,1203.91 1480.65,1222.96' fill='#000080'/>
<polygon points='1583.1,1086.28 1597.05,1076.76 1597.05,1095.81' fill='#000080'/>
<polygon points='1699.5,1033.61 1713.45,1024.08 1713.45,1043.13' fill='#000080'/>
<polygon points='1019.5,1578.2 1005.85,1568.67 1005.85,1587.73' fill='#8000ff'/>
<polygon points='1135.9,1520.71 1122.25,1511.18 1122.25,1530.24' fill='#8000ff'/>
<polygon points='1252.3,1444.53 1238.65,1435 1238.65,1454.06' fill='#8000ff'/>
<polygon points='1368.7,1354.76 1355.05,1345.23 1355.05,1364.28' fill='#8000ff'/>
<polygon points='1485.1,1266.68 1471.45,1257.15 1471.45,1276.21' fill='#8000ff'/>
<polygon points='1601.5,1192.76 1587.85,1183.24 1587.85,1202.29' fill='#8000ff'/>
<polygon points='1717.9,1152.27 1704.25,1142.74 1704.25,1161.79' fill='#8000ff'/>
</g>
<line x1='999.4' y1='1578.2' x2='1010.4' y2='1578.2' stroke='#000' stroke-width='2'/>
<line x1='999.4' y1='1436.6' x2='1010.4' y2='1436.6' stroke='#000' stroke-width='2'/>
<line x1='999.4' y1='1295' x2='1010.4' y2='1295' stroke='#000' stroke-width='2'/>
<line x1='999.4' y1='1153.4' x2='1010.4' y2='1153.4' stroke='#000' stroke-width='2'/>
<line x1='999.4' y1='1011.8' x2='1010.4' y2='1011.8' stroke='#000' stroke-width='2'/>
<line x1='999.4' y1='870.2' x2='1010.4' y2='870.2' stroke='#000' stroke-width='2'/>
<line x1='1004.9' y1='1507.4' x2='1010.4' y2='1507.4' stroke='#000' stroke-width='2'/>
<line x1='1004.9' y1='1365.8' x2='1010.4' y2='1365.8' stroke='#000' stroke-width='2'/>
<line x1='1004.9' y1='1224.2' x2='1010.4' y2='1224.2' stroke='#000' stroke-width='2'/>
<line x1='1004.9' y1='1082.6' x2='1010.4' y2='1082.6' stroke='#000' stroke-width='2'/>
<line x1='1004.9' y1='941' x2='1010.4' y2='941' stroke='#000' stroke-width='2'/>
<line x1='1010.4' y1='1578.2' x2='1010.4' y2='1592.2' stroke='#000' stroke-width='2'/>
<line x1='1126.8' y1='1578.2' x2='1126.8' y2='1592.2' stroke='#000' stroke-width='2'/>
<line x1='1243.2' y1='1578.2' x2='1243.2' y2='1592.2' stroke='#000' stroke-width='2'/>
<line x1='1359.6' y1='1578.2' x2='1359.6' y2='1592.2' stroke='#000' stroke-width='2'/>
<line x1='1476' y1='1578.2' x2='1476' y2='1592.2' stroke='#000' stroke-width='2'/>
<line x1='1592.4' y1='1578.2' x2='1592.4' y2='1592.2' stroke='#000' stroke-width='2'/>
<line x1='1708.8' y1='1578.2' x2='1708.8' y2='1592.2' stroke='#000' stroke-width='2'/>
<line x1='1068.6' y1='1578.2' x2='1068.6' y2='1586.8' stroke='#000' stroke-width='2'/>
<line x1='1185' y1='1578.2' x2='1185' y2='1586.8' stroke='#000' stroke-width='2'/>
<line x1='1301.4' y1='1578.2' x2='1301.4' y2='1586.8' stroke='#000' stroke-width='2'/>
<line x1='1417.8' y1='1578.2' x2='1417.8' y2='1586.8' stroke='#000' stroke-width='2'/>
<line x1='1534.2' y1='1578.2' x2='1534.2' y2='1586.8' stroke='#000' stroke-width='2'/>
<line x1='1650.6' y1='1578.2' x2='1650.6' y2='1586.8' stroke='#000' stroke-width='2'/>
<line x1='1767' y1='1578.2' x2='1767' y2='1586.8' stroke='#000' stroke-width='2'/>
<line x1='1010.4' y1='870.6' x2='1767' y2='870.6' stroke='#000' stroke-width='2'/>
<line x1='1767' y1='869.6' x2='1767' y2='1578.2' stroke='#000' stroke-width='2'/>
<line x1='1010.4' y1='869.6' x2='1010.4' y2='1579.2' stroke='#000' stroke-width='2'/>
<line x1='1009.4' y1='1578.2' x2='1768' y2='1578.2' stroke='#000' stroke-width='2'/>
<g clip-path='url(#clipD2)'>
<polyline points='1010.4,1578.2 1708.8,1487.86' fill='none' stroke='#000000' stroke-width='3' stroke-linejoin='round'/>
<polyline points='1010.4,1578.2 1708.8,1534.02' fill='none' stroke='#ff0000' stroke-width='3' stroke-linejoin='round'/>
<polyline points='1010.4,1578.2 1708.8,961.96' fill='none' stroke='#0000ff' stroke-width='3' stroke-linejoin='round'/>
<polyline points='1010.4,1578.2 1708.8,1195.6' fill='none' stroke='#ff00ff' stroke-width='3' stroke-linejoin='round'/>
<polyline points='1010.4,1578.2 1708.8,1265.83' fill='none' stroke='#008000' stroke-width='3' stroke-linejoin='round'/>
<polyline points='1010.4,1578.2 1708.8,1035.59' fill='none' stroke='#000080' stroke-width='3' stroke-linejoin='round'/>
<polyline points='1010.4,1578.2 1708.8,1134.43' fill='none' stroke='#8000ff' stroke-width='3' stroke-linejoin='round'/>
</g>
<text transform='translate(960.23 1586.13) scale(0.8400 1)' font-size='26.8' font-family='&quot;Liberation Sans&quot;, Arial, sans-serif' font-weight='bold' fill='#000'>0.0</text>
<text transform='translate(959.93 1445.83) scale(0.8400 1)' font-size='26.8' font-family='&quot;Liberation Sans&quot;, Arial, sans-serif' font-weight='bold' fill='#000'>0.5</text>
<text transform='translate(960.23 1304.23) scale(0.8400 1)' font-size='26.8' font-family='&quot;Liberation Sans&quot;, Arial, sans-serif' font-weight='bold' fill='#000'>1.0</text>
<text transform='translate(959.93 1161.89) scale(0.8400 1)' font-size='26.8' font-family='&quot;Liberation Sans&quot;, Arial, sans-serif' font-weight='bold' fill='#000'>1.5</text>
<text transform='translate(960.23 1020.43) scale(0.8400 1)' font-size='26.8' font-family='&quot;Liberation Sans&quot;, Arial, sans-serif' font-weight='bold' fill='#000'>2.0</text>
<text transform='translate(959.93 874.23) scale(0.8400 1)' font-size='26.8' font-family='&quot;Liberation Sans&quot;, Arial, sans-serif' font-weight='bold' fill='#000'>2.5</text>
<text transform='translate(1003.7 1619.99) scale(0.9700 1)' font-size='24.9' font-family='&quot;Liberation Sans&quot;, Arial, sans-serif' font-weight='bold' fill='#000'>0</text>
<text transform='translate(1113.1 1619.99) scale(0.9700 1)' font-size='24.9' font-family='&quot;Liberation Sans&quot;, Arial, sans-serif' font-weight='bold' fill='#000'>10</text>
<text transform='translate(1229.84 1619.99) scale(0.9700 1)' font-size='24.9' font-family='&quot;Liberation Sans&quot;, Arial, sans-serif' font-weight='bold' fill='#000'>20</text>
<text transform='translate(1346.39 1619.99) scale(0.9700 1)' font-size='24.9' font-family='&quot;Liberation Sans&quot;, Arial, sans-serif' font-weight='bold' fill='#000'>30</text>
<text transform='translate(1462.88 1619.99) scale(0.9700 1)' font-size='24.9' font-family='&quot;Liberation Sans&quot;, Arial, sans-serif' font-weight='bold' fill='#000'>40</text>
<text transform='translate(1579.09 1619.99) scale(0.9700 1)' font-size='24.9' font-family='&quot;Liberation Sans&quot;, Arial, sans-serif' font-weight='bold' fill='#000'>50</text>
<text transform='translate(1695.42 1619.99) scale(0.9700 1)' font-size='24.9' font-family='&quot;Liberation Sans&quot;, Arial, sans-serif' font-weight='bold' fill='#000'>60</text>
<text transform='translate(1316.68 1684.84) scale(0.8484 1)' font-size='34.01' font-family='&quot;Liberation Sans&quot;, Arial, sans-serif' font-weight='bold' fill='#000'>Time (min)</text>
<text transform='translate(934.8 1314.4) rotate(-90) scale(1.2571 1)' font-size='28.43' font-family='&quot;Liberation Sans&quot;, Arial, sans-serif' font-weight='bold' fill='#000'>ln(C</text>
<text transform='translate(945.12 1243.74) rotate(-90) scale(1.1221 1)' font-size='18.93' font-family='&quot;Liberation Sans&quot;, Arial, sans-serif' font-weight='bold' fill='#000'>0</text>
<text transform='translate(934.63 1231.56) rotate(-90) scale(1.2646 1)' font-size='28.75' font-family='&quot;Liberation Sans&quot;, Arial, sans-serif' font-weight='bold' fill='#000'>/C)</text>
<text transform='translate(899.19 855.54) scale(0.7589 1)' font-size='50.42' font-family='&quot;Liberation Sans&quot;, Arial, sans-serif' font-weight='bold' fill='#000'>(</text>
<text transform='translate(914.38 856.51) scale(0.8379 1)' font-size='49.97' font-family='&quot;Liberation Sans&quot;, Arial, sans-serif' font-weight='bold' fill='#000'>d</text>
<text transform='translate(942.36 855.54) scale(0.7449 1)' font-size='50.42' font-family='&quot;Liberation Sans&quot;, Arial, sans-serif' font-weight='bold' fill='#000'>)</text>
<rect x='1015.4' y='877.6' width='273.9' height='394' fill='#fff' stroke='#222' stroke-width='1.3'/>
<rect x='1053.85' y='929.65' width='12.3' height='13.5' fill='#000000'/>
<text transform='translate(1096.47 948.68) scale(0.7980 1)' font-size='32.8' font-family='&quot;Liberation Sans&quot;, Arial, sans-serif' fill='#000' style='white-space:pre'><tspan>CdS</tspan></text>
<ellipse cx='1059.4' cy='977.5' rx='6.7' ry='8.3' fill='#ff0000'/>
<text transform='translate(1096.47 989.38) scale(0.7980 1)' font-size='32.8' font-family='&quot;Liberation Sans&quot;, Arial, sans-serif' fill='#000' style='white-space:pre'><tspan>CeO</tspan><tspan font-size='20.66' dy='11.64'>2</tspan></text>
<polygon points='1060.2,1016.15 1068.65,1035.25 1051.75,1035.25' fill='#0000ff'/>
<text transform='translate(1096.47 1038.48) scale(0.7980 1)' font-size='32.8' font-family='&quot;Liberation Sans&quot;, Arial, sans-serif' fill='#000' style='white-space:pre'><tspan>CdS/CeO</tspan><tspan font-size='20.66' dy='11.64'>2</tspan><tspan font-size='32.8' dy='-11.64'> (1:1)</tspan></text>
<polygon points='1060.2,1089.5 1068.65,1071.9 1051.75,1071.9' fill='#ff00ff'/>
<text transform='translate(1096.47 1089.78) scale(0.7980 1)' font-size='32.8' font-family='&quot;Liberation Sans&quot;, Arial, sans-serif' fill='#000' style='white-space:pre'><tspan>CdS/CeO</tspan><tspan font-size='20.66' dy='11.64'>2</tspan><tspan font-size='32.8' dy='-11.64'> (1:2)</tspan></text>
<polygon points='1060.2,1117.35 1068.8,1128 1060.2,1138.65 1051.6,1128' fill='#008000'/>
<text transform='translate(1096.47 1139.68) scale(0.7980 1)' font-size='32.8' font-family='&quot;Liberation Sans&quot;, Arial, sans-serif' fill='#000' style='white-space:pre'><tspan>CdS/CeO</tspan><tspan font-size='20.66' dy='11.64'>2</tspan><tspan font-size='32.8' dy='-11.64'> (1:3)</tspan></text>
<polygon points='1051.05,1178.6 1065.75,1167.95 1065.75,1189.25' fill='#000080'/>
<text transform='translate(1096.47 1189.58) scale(0.7980 1)' font-size='32.8' font-family='&quot;Liberation Sans&quot;, Arial, sans-serif' fill='#000' style='white-space:pre'><tspan>CdS/CeO</tspan><tspan font-size='20.66' dy='11.64'>2</tspan><tspan font-size='32.8' dy='-11.64'> (2:1)</tspan></text>
<polygon points='1070.15,1228.5 1055.45,1218.45 1055.45,1238.55' fill='#8000ff'/>
<text transform='translate(1096.47 1239.48) scale(0.7980 1)' font-size='32.8' font-family='&quot;Liberation Sans&quot;, Arial, sans-serif' fill='#000' style='white-space:pre'><tspan>CdS/CeO</tspan><tspan font-size='20.66' dy='11.64'>2</tspan><tspan font-size='32.8' dy='-11.64'> (3:1)</tspan></text>
</svg>
</body></html>
